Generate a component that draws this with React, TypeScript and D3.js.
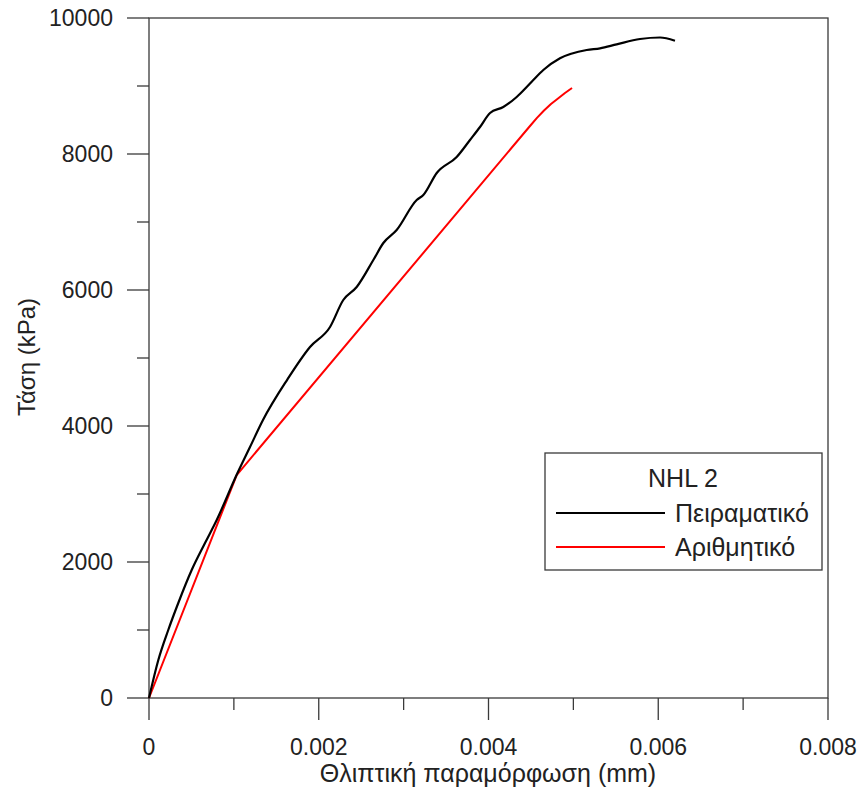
import React, { useEffect, useRef } from "react";
import * as d3 from "d3";

const expStrain = [0, 0.00011, 0.000227, 0.000345, 0.000503, 0.00066, 0.000798, 0.001037, 0.00119, 0.001343, 0.001626, 0.001897, 0.002133, 0.002289, 0.002447, 0.002643, 0.002761, 0.002918, 0.003154, 0.003232, 0.00339, 0.003625, 0.003782, 0.0039, 0.004018, 0.004174, 0.004332, 0.00445, 0.004528, 0.004646, 0.004842, 0.005157, 0.005314, 0.00551, 0.005785, 0.006021, 0.006197];
const expStress = [0, 559, 1000, 1397, 1882, 2279, 2618, 3294, 3691, 4088, 4676, 5162, 5456, 5853, 6044, 6441, 6691, 6882, 7324, 7397, 7721, 7956, 8206, 8397, 8603, 8691, 8838, 8985, 9088, 9235, 9407, 9529, 9554, 9613, 9691, 9713, 9666];

const numStrain = [0, 0.001033, 0.004489, 0.004571, 0.004654, 0.004736, 0.004819, 0.004901, 0.004984];
const numStress = [0, 3279, 8412, 8532, 8640, 8735, 8816, 8897, 8971];

const xTicks = [0, 0.002, 0.004, 0.006, 0.008];
const xMinor = [0.001, 0.003, 0.005, 0.007];
const yTicks = [0, 2000, 4000, 6000, 8000, 10000];
const yMinor = [1000, 3000, 5000, 7000, 9000];

const legendTitle = "NHL 2";
const seriesNames = ["Πειραματικό", "Αριθμητικό"];
const seriesColors = ["#000000", "#ff0000"];
const xTitle = "Θλιπτική παραμόρφωση (mm)";
const yTitle = "Τάση (kPa)";

export default function App() {
  const ref = useRef<SVGSVGElement>(null);
  useEffect(() => {
    const svg = d3.select(ref.current);
    svg.selectAll("*").remove();
    const W = 863, H = 796;
    const L = 149, R = 828, T = 18, B = 698;
    const font = "'Liberation Sans', Arial, sans-serif";
    const x = d3.scaleLinear().domain([0, 0.008]).range([L, R]);
    const y = d3.scaleLinear().domain([0, 10000]).range([B, T]);
    svg.attr("width", W).attr("height", H);
    svg.append("rect").attr("width", W).attr("height", H).attr("fill", "#fff");

    const axisColor = "#3a3a3a";
    svg.append("rect").attr("x", L).attr("y", T).attr("width", R - L).attr("height", B - T)
      .attr("fill", "none").attr("stroke", axisColor).attr("stroke-width", 1.3);

    const gx = svg.append("g");
    xTicks.forEach(v => {
      gx.append("line").attr("x1", x(v)).attr("x2", x(v)).attr("y1", B).attr("y2", B + 22)
        .attr("stroke", axisColor).attr("stroke-width", 1.3);
      gx.append("text").attr("x", x(v)).attr("y", 755).attr("text-anchor", "middle")
        .attr("font-family", font).attr("font-size", 23).attr("fill", "#222")
        .text(v === 0 ? "0" : d3.format(".3f")(v));
    });
    xMinor.forEach(v => {
      gx.append("line").attr("x1", x(v)).attr("x2", x(v)).attr("y1", B).attr("y2", B + 12)
        .attr("stroke", axisColor).attr("stroke-width", 1.3);
    });
    yTicks.forEach(v => {
      gx.append("line").attr("x1", L - 22).attr("x2", L).attr("y1", y(v)).attr("y2", y(v))
        .attr("stroke", axisColor).attr("stroke-width", 1.3);
      gx.append("text").attr("x", 113).attr("y", y(v) + 8).attr("text-anchor", "end")
        .attr("font-family", font).attr("font-size", 23).attr("fill", "#222")
        .text(String(v));
    });
    yMinor.forEach(v => {
      gx.append("line").attr("x1", L - 12).attr("x2", L).attr("y1", y(v)).attr("y2", y(v))
        .attr("stroke", axisColor).attr("stroke-width", 1.3);
    });

    svg.append("text").attr("x", 488).attr("y", 782).attr("text-anchor", "middle")
      .attr("font-family", font).attr("font-size", 25).attr("fill", "#222").text(xTitle);
    svg.append("text").attr("transform", `translate(35,357) rotate(-90)`).attr("text-anchor", "middle")
      .attr("font-family", font).attr("font-size", 24).attr("fill", "#222").text(yTitle);

    const exp: [number, number][] = expStrain.map((s, i) => [s, expStress[i]]);
    const num: [number, number][] = numStrain.map((s, i) => [s, numStress[i]]);
    const lineLin = d3.line<[number, number]>().x(d => x(d[0])).y(d => y(d[1])).curve(d3.curveLinear);
    const lineSm = d3.line<[number, number]>().x(d => x(d[0])).y(d => y(d[1])).curve(d3.curveMonotoneX);
    svg.append("path").attr("d", lineLin(num) || "").attr("fill", "none")
      .attr("stroke", seriesColors[1]).attr("stroke-width", 2).attr("stroke-linejoin", "round");
    svg.append("path").attr("d", lineSm(exp) || "").attr("fill", "none")
      .attr("stroke", seriesColors[0]).attr("stroke-width", 2.2).attr("stroke-linejoin", "round");

    const lg = svg.append("g");
    lg.append("rect").attr("x", 545).attr("y", 453).attr("width", 277).attr("height", 117)
      .attr("fill", "#fff").attr("stroke", axisColor).attr("stroke-width", 1.3);
    lg.append("text").attr("x", 683).attr("y", 487).attr("text-anchor", "middle")
      .attr("font-family", font).attr("font-size", 25).attr("fill", "#222").text(legendTitle);
    seriesNames.forEach((n, i) => {
      const yy = 513 + i * 34;
      lg.append("line").attr("x1", 556).attr("x2", 665).attr("y1", yy).attr("y2", yy)
        .attr("stroke", seriesColors[i]).attr("stroke-width", 2);
      lg.append("text").attr("x", 675).attr("y", yy + 9).attr("font-family", font)
        .attr("font-size", 25).attr("fill", "#222").text(n);
    });
  }, []);
  return <svg ref={ref} style={{ position: "absolute", left: 0, top: 0 }} />;
}
